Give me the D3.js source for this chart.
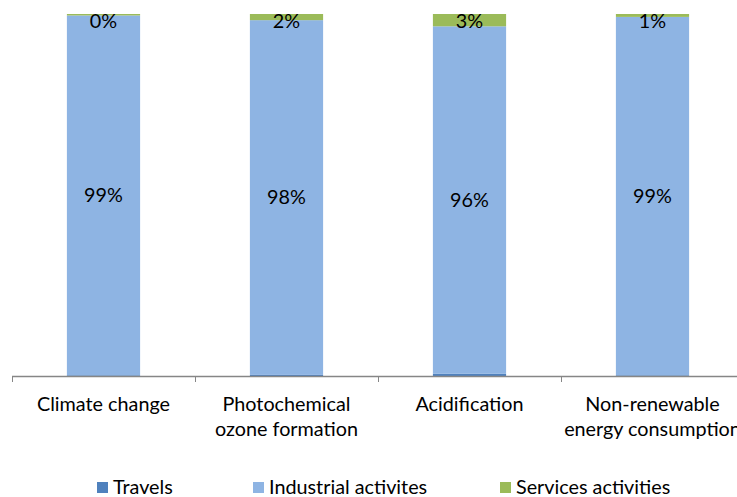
<!DOCTYPE html>
<html>
<head>
<meta charset="utf-8">
<script src="https://cdn.jsdelivr.net/npm/d3@7"></script>
<style>
  html, body { margin: 0; padding: 0; background: #fff; }
  svg { display: block; overflow: hidden; }
  text { font-family: Lato, "Open Sans", sans-serif; fill: #000; }
</style>
</head>
<body>
<svg id="chart" width="737" height="497"></svg>
<script>
// ---- data ----
const categories = [
  ["Climate change"],
  ["Photochemical", "ozone formation"],
  ["Acidification"],
  ["Non-renewable", "energy consumption"]
];
const seriesNames = ["Travels", "Industrial activites", "Services activities"];
const travels    = [0.2, 0.3, 0.6, 0.2];
const industrial = [99.4, 98.0, 96.0, 99.0];
const services   = [0.4, 1.7, 3.4, 0.8];
const colors = ["#4F81BD", "#8EB4E3", "#9BBB59"];

// ---- layout ----
const svg = d3.select("#chart");
const plot = { left: 12, right: 744, top: 14, bottom: 376 };
const FS = 19.8;

const keys = categories.map(c => c.join(" "));
const x = d3.scaleBand().domain(keys).range([plot.left, plot.right]).paddingInner(0).paddingOuter(0);
const y = d3.scaleLinear().domain([0, 100]).range([plot.bottom, plot.top]);
const barW = x.bandwidth() * 0.4;

const rows = keys.map((k, i) => ({ key: k, Travels: travels[i], "Industrial activites": industrial[i], "Services activities": services[i] }));
const stacked = d3.stack().keys(seriesNames)(rows);

const g = svg.append("g");

stacked.forEach((layer, si) => {
  g.selectAll(null).data(layer).enter().append("rect")
    .attr("x", d => x(d.data.key) + (x.bandwidth() - barW) / 2)
    .attr("width", barW)
    .attr("y", d => y(d[1]))
    .attr("height", d => y(d[0]) - y(d[1]))
    .attr("fill", colors[si]);
});

// value labels (industrial and services)
const fmt = v => Math.round(v) + "%";
[1, 2].forEach(si => {
  g.selectAll(null).data(stacked[si]).enter().append("text")
    .attr("x", d => x(d.data.key) + x.bandwidth() / 2)
    .attr("y", d => Math.max((y(d[0]) + y(d[1])) / 2, plot.top + 7))
    .attr("dy", "0.35em")
    .attr("text-anchor", "middle")
    .attr("font-size", FS)
    .text(d => fmt(d[1] - d[0]));
});

// x axis: line and boundary ticks
const axisColor = "#868686";
g.append("line")
  .attr("x1", plot.left).attr("x2", plot.right)
  .attr("y1", plot.bottom + 0.5).attr("y2", plot.bottom + 0.5)
  .attr("stroke", axisColor).attr("stroke-width", 1.5);
const bounds = keys.map(k => x(k)).concat([x(keys[keys.length - 1]) + x.bandwidth()]);
g.selectAll(null).data(bounds).enter().append("line")
  .attr("x1", d => d + 0.5).attr("x2", d => d + 0.5)
  .attr("y1", plot.bottom).attr("y2", plot.bottom + 6)
  .attr("stroke", axisColor).attr("stroke-width", 1);

// category labels
categories.forEach((lines, i) => {
  const cx = x(keys[i]) + x.bandwidth() / 2;
  const t = g.append("text")
    .attr("text-anchor", "middle")
    .attr("font-size", FS)
    .attr("x", cx)
    .attr("y", 411);
  lines.forEach((ln, j) => {
    t.append("tspan").attr("x", cx).attr("dy", j === 0 ? 0 : 25).text(ln);
  });
});

// legend
const legendX = [97, 253, 500];
seriesNames.forEach((name, i) => {
  const lg = svg.append("g").attr("transform", `translate(${legendX[i]},482)`);
  lg.append("rect").attr("width", 11).attr("height", 11).attr("fill", colors[i]);
  lg.append("text").attr("x", 16).attr("y", 12).attr("font-size", FS).text(name);
});
</script>
</body>
</html>
